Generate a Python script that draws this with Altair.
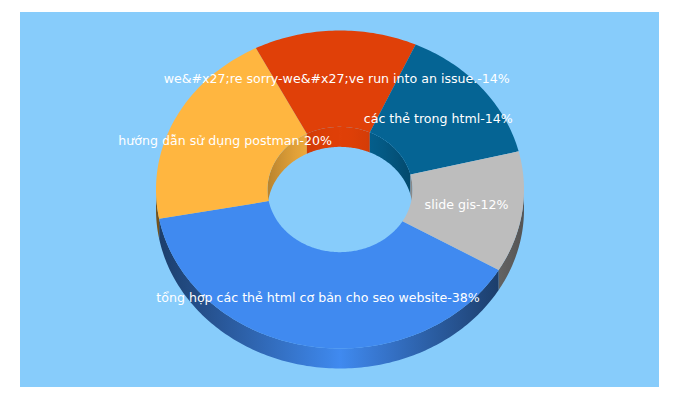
import math
import altair as alt

categories = ["tổng hợp các thẻ html cơ bản cho seo website", "hướng dẫn sử dụng postman",
              "we&#x27;re sorry-we&#x27;ve run into an issue.", "các thẻ trong html", "slide gis"]
percents = [38, 20, 14, 14, 12]
shares = [38.6, 20.4, 14.3, 14.4, 12.3]
colors = ["#408AF0", "#FFB640", "#E04008", "#056494", "#BDBDBD"]
BACKGROUND = "#87CCFB"
PANEL_W, PANEL_H = 639, 375
START = 120.4
CX, CY, RX, RY = 320.0, 177.5, 184.0, 159.0
HOLE = 0.394
DEPTH = 20.0
LABEL_R = 0.695


def pt(t, r, dz=0.0):
    a = math.radians(t)
    return [CX + RX * r * math.sin(a), CY - RY * r * math.cos(a) + dz]


def samples(t0, t1):
    n = max(2, int(abs(t1 - t0)) + 2)
    return [t0 + (t1 - t0) * i / (n - 1) for i in range(n)]


def feature(ring):
    return {"type": "Feature", "properties": {},
            "geometry": {"type": "Polygon", "coordinates": [ring + [ring[0]]]}}


def hexmul(c, f):
    v = [int(c[i:i + 2], 16) for i in (1, 3, 5)]
    return "#" + "".join(f"{min(255, int(x * f)):02x}" for x in v)


def wall_gradient(color, xs, dark, power, reach):
    x0, x1 = min(xs), max(xs)
    offsets = [i / 16 for i in range(17)]
    if x0 < CX < x1:
        offsets = sorted(set(offsets + [(CX - x0) / (x1 - x0)]))
    left = reach or (CX - x0)
    right = reach or (x1 - CX)
    stops = []
    for o in offsets:
        x = x0 + (x1 - x0) * o
        d = (CX - x) / left if x < CX else ((x - CX) / right if right > 0 else 0)
        stops.append(alt.GradientStop(offset=o, color=hexmul(color, 1 - (1 - dark) * d ** power)))
    return alt.LinearGradient(gradient="linear", x1=0, x2=1, y1=0, y2=0, stops=stops)


total = sum(shares)
spans = []
t = START
for p in shares:
    spans.append((t, t + p / total * 360))
    t += p / total * 360


def shape(ring, fill):
    return alt.Chart(alt.Data(values=[feature(ring)])).mark_geoshape(fill=fill, strokeWidth=0, stroke=None).project(
        type="identity", scale=1, translate=[0, 0])


layers = [shape([[0, 0], [PANEL_W, 0], [PANEL_W, PANEL_H], [0, PANEL_H]], BACKGROUND)]
# walls
for (a, b), c in zip(spans, colors):
    for off in (0, 360, -360):
        lo, hi = max(a + off, 90), min(b + off, 270)
        if hi > lo:
            ts = samples(lo, hi)
            ring = [pt(x, 1) for x in ts] + [pt(x, 1, DEPTH) for x in reversed(ts)]
            layers.append(shape(ring, wall_gradient(c, [q[0] for q in ring], 0.45, 1.0, None)))
    for off in (0, 360, -360):
        lo, hi = max(a + off, -90), min(b + off, 90)
        if hi > lo:
            ts = samples(lo, hi)
            ring = [pt(x, HOLE) for x in ts] + [pt(x, HOLE, DEPTH) for x in reversed(ts)]
            layers.append(shape(ring, wall_gradient(c, [q[0] for q in ring], 0.72, 1.8, RX * HOLE)))
# top faces
for (a, b), c in zip(spans, colors):
    ts = samples(a, b)
    ring = [pt(x, 1) for x in ts] + [pt(x, HOLE) for x in reversed(ts)]
    layers.append(shape(ring, c))

# labels
rows = []
for name, p, (a, b) in zip(categories, percents, spans):
    x, y = pt((a + b) / 2, LABEL_R)
    rows.append({"label": f"{name}-{p}%", "lon": x, "lat": y})
labels = alt.Chart(alt.Data(values=rows)).mark_text(
    color="white", fontSize=12.6, font="DejaVu Sans", align="center", baseline="middle"
).encode(longitude="lon:Q", latitude="lat:Q", text="label:N").project(type="identity", scale=1, translate=[0, 0])
layers.append(labels)

chart = alt.layer(*layers).properties(
    width=PANEL_W, height=PANEL_H, padding={"left": 12, "top": 4, "right": 0, "bottom": 0}, background="white"
).configure_view(stroke=None)
chart.save("out.html", embed_options={"renderer": "svg", "actions": False})
